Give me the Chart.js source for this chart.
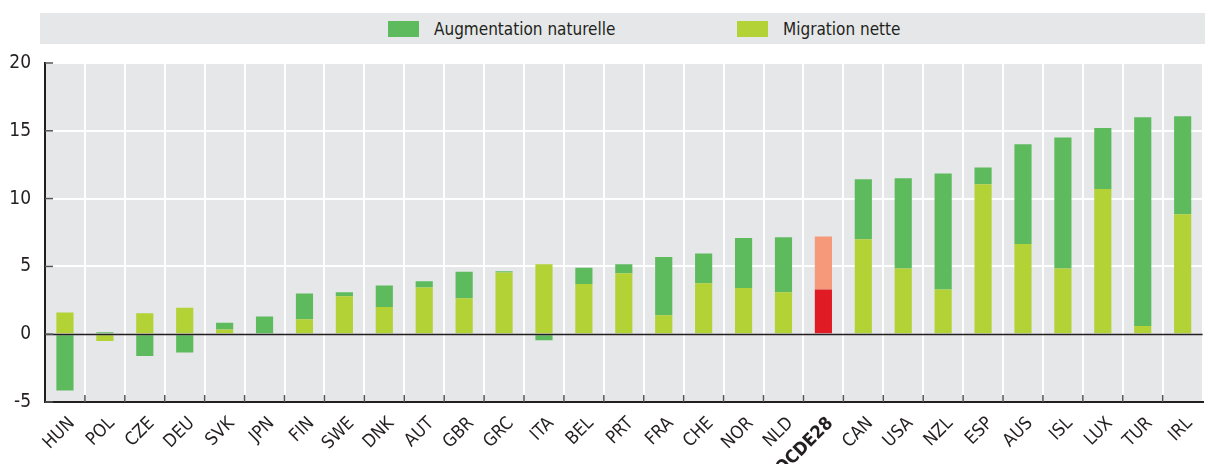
<!DOCTYPE html>
<html>
<head>
<meta charset="utf-8">
<script src="https://cdn.jsdelivr.net/npm/chart.js@4/dist/chart.umd.min.js"></script>
<style>
  html, body { margin: 0; padding: 0; background: #fff; }
  #wrap { position: relative; width: 1209px; height: 464px; }
  #legend {
    position: absolute; left: 40px; top: 13px; width: 1165px; height: 31px;
    background: #e6e7e8; font-family: "Liberation Sans Narrow", "DejaVu Sans Condensed", sans-serif;
    font-size: 17px; color: #231f20;
  }
  .item { position: absolute; top: 0; height: 31px; display: flex; align-items: center; }
  .box { width: 31px; height: 16px; margin-right: 15px; }
</style>
</head>
<body>
<div id="wrap">
  <canvas id="c" width="1209" height="464"></canvas>
  <div id="legend">
    <div class="item" style="left:348px"><span class="box" style="background:#5dbb5e"></span>Augmentation naturelle</div>
    <div class="item" style="left:697px"><span class="box" style="background:#b2d235"></span>Migration nette</div>
  </div>
</div>
<script>
const categories = ['HUN','POL','CZE','DEU','SVK','JPN','FIN','SWE','DNK','AUT','GBR','GRC','ITA','BEL','PRT','FRA','CHE','NOR','NLD','OCDE28','CAN','USA','NZL','ESP','AUS','ISL','LUX','TUR','IRL']
const migrationNette = [1.6, -0.5, 1.55, 1.95, 0.35, 0, 1.1, 2.8, 2.0, 3.45, 2.65, 4.55, 5.15, 3.7, 4.5, 1.4, 3.75, 3.4, 3.1, 3.3, 7.0, 4.85, 3.3, 11.05, 6.65, 4.85, 10.7, 0.6, 8.85]
const augmentationNaturelle = [-4.15, 0.15, -1.6, -1.35, 0.5, 1.3, 1.9, 0.3, 1.6, 0.45, 1.95, 0.1, -0.45, 1.2, 0.65, 4.3, 2.2, 3.7, 4.05, 3.9, 4.43, 6.65, 8.55, 1.25, 7.35, 9.65, 4.5, 15.4, 7.23]
const yTicks = [-5, 0, 5, 10, 15, 20]

const highlight = 'OCDE28'
const colMig = categories.map(c => c === highlight ? '#e01b24' : '#b2d235')
const colNat = categories.map(c => c === highlight ? '#f5997a' : '#5dbb5e')
const font = '"Liberation Sans Narrow", "DejaVu Sans Condensed", sans-serif'
const ink = '#231f20'

const plotBg = {
  id: 'plotBg',
  beforeDraw(chart) {
    const { ctx, chartArea: a } = chart
    ctx.save()
    ctx.fillStyle = '#e6e7e8'
    ctx.fillRect(a.left, a.top, a.right - a.left, a.bottom - a.top)
    ctx.restore()
  },
  afterDatasetsDraw(chart) {
    const { ctx, chartArea: a, scales } = chart
    ctx.save()
    ctx.strokeStyle = ink
    // zero line over the bars
    const y0 = Math.round(scales.y.getPixelForValue(0)) + 0.5
    ctx.lineWidth = 1.5
    ctx.beginPath(); ctx.moveTo(a.left, y0); ctx.lineTo(a.right, y0); ctx.stroke()
    // inward ticks
    ctx.strokeStyle = '#555'
    yTicks.forEach(v => {
      const y = scales.y.getPixelForValue(v)
      ctx.beginPath(); ctx.moveTo(a.left, y); ctx.lineTo(a.left + 8, y); ctx.stroke()
    })
    for (let i = 1; i < categories.length; i++) {
      const x = (scales.x.getPixelForValue(i - 1) + scales.x.getPixelForValue(i)) / 2
      ctx.beginPath(); ctx.moveTo(x, a.bottom); ctx.lineTo(x, a.bottom - 7); ctx.stroke()
    }
    ctx.restore()
  }
}

new Chart(document.getElementById('c'), {
  type: 'bar',
  data: {
    labels: categories,
    datasets: [
      { label: 'Migration nette', data: migrationNette, backgroundColor: colMig },
      { label: 'Augmentation naturelle', data: augmentationNaturelle, backgroundColor: colNat }
    ]
  },
  options: {
    responsive: false,
    animation: false,
    datasets: { bar: { barPercentage: 0.43, categoryPercentage: 1 } },
    layout: { padding: { top: 63, right: 4, left: 0, bottom: 0 } },
    plugins: { legend: { display: false }, tooltip: { enabled: false } },
    scales: {
      x: {
        stacked: true,
        grid: { color: '#fff', lineWidth: 2, drawTicks: false, offset: true },
        border: { display: true, color: ink, width: 2 },
        ticks: {
          maxRotation: 45, minRotation: 45, padding: 11, labelOffset: 7, color: ink,
          font: c => ({ family: font, size: 18, weight: categories[c.index] === highlight ? 'bold' : 'normal' })
        },
        afterFit(s) { s.height = 62 }
      },
      y: {
        stacked: true,
        min: -5, max: 20,
        afterBuildTicks(s) { s.ticks = yTicks.map(v => ({ value: v })) },
        grid: { color: c => c.tick.value === 0 ? 'rgba(0,0,0,0)' : '#fff', lineWidth: 2, drawTicks: false },
        border: { display: true, color: ink, width: 2 },
        ticks: { padding: 14, color: ink, font: { family: font, size: 19 } },
        afterFit(s) { s.width = 45 }
      }
    }
  },
  plugins: [plotBg]
})
</script>
</body>
</html>
